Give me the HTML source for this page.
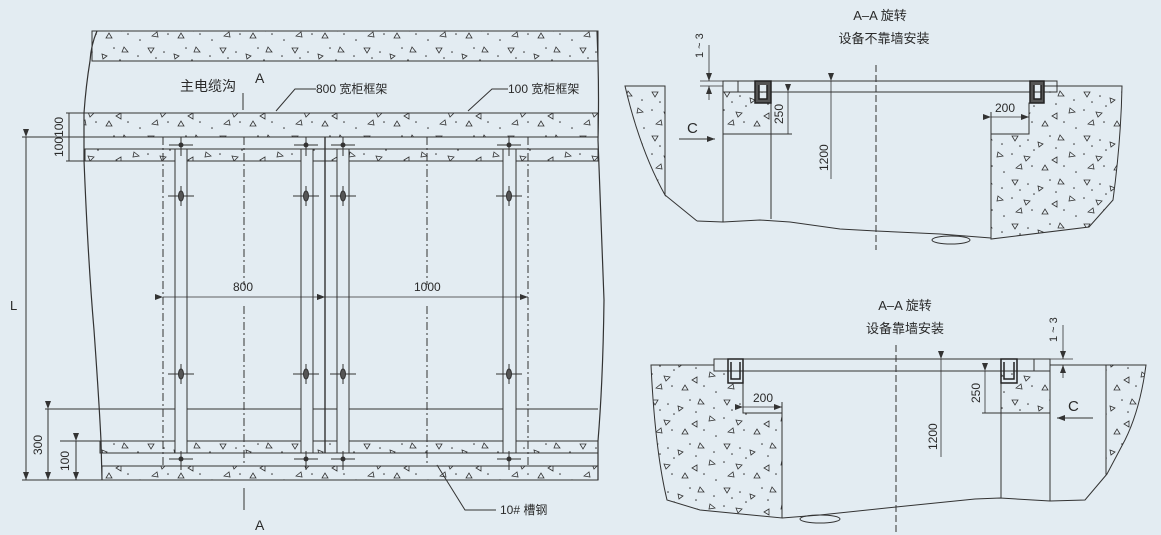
<!DOCTYPE html>
<html><head><meta charset="utf-8"><style>
html,body{margin:0;padding:0;background:#e3ecf2;}
svg{display:block;}
text{font-family:"Liberation Sans","Noto Sans CJK SC",sans-serif;fill:#2a2a2a;}
</style></head><body>
<svg width="1161" height="535" viewBox="0 0 1161 535" xmlns="http://www.w3.org/2000/svg">
<defs>
<pattern id="c" width="72" height="44" patternUnits="userSpaceOnUse">
<g fill="none" stroke="#333" stroke-width="0.8">
<path d="M4 4 l6 0 l-3 5z"/><path d="M30 10 l5 2 l-4 3z"/><path d="M52 3 l4 5 l-6 0z"/>
<path d="M16 24 l6 1 l-4 4z"/><path d="M44 28 l5 -3 l0 6z"/><path d="M62 20 l5 4 l-6 1z"/>
<path d="M8 36 l5 -4 l1 5z"/><path d="M34 38 l6 0 l-3 -5z"/>
</g>
<g fill="#333"><circle cx="20" cy="8" r="0.8"/><circle cx="42" cy="4" r="0.8"/><circle cx="66" cy="12" r="0.8"/><circle cx="26" cy="18" r="0.8"/><circle cx="4" cy="22" r="0.8"/><circle cx="56" cy="34" r="0.8"/><circle cx="24" cy="34" r="0.8"/><circle cx="48" cy="16" r="0.8"/><circle cx="68" cy="40" r="0.8"/><circle cx="12" cy="14" r="0.8"/></g>
</pattern>
<marker id="ar" markerWidth="8" markerHeight="6" refX="8" refY="3" orient="auto" markerUnits="userSpaceOnUse"><path d="M0 0 L8 3 L0 6z" fill="#333"/></marker>
</defs>

<g stroke="#333" stroke-width="1" fill="none">
<rect x="92" y="31" width="506" height="30" fill="url(#c)"/>
<rect x="84" y="113" width="514" height="24" fill="url(#c)"/>
<rect x="85" y="149" width="513" height="12" fill="url(#c)"/>
<rect x="100" y="441" width="498" height="12" fill="url(#c)"/>
<rect x="102" y="466" width="496" height="14" fill="url(#c)"/>
<path d="M97 31 Q91 45 90 61 Q86 85 84 113 L84 160 Q88 260 94 330 Q99 400 101 441 L102 480" stroke-width="1.2"/>
<path d="M597 31 L598 61 Q599 100 598 140 Q602 250 604 300 Q603 380 598 441 L598 480" stroke-width="1.2"/>
<line x1="84" y1="149" x2="598" y2="149"/>
<line x1="66" y1="113" x2="84" y2="113"/><line x1="66" y1="161" x2="85" y2="161"/>
<line x1="22" y1="137" x2="84" y2="137"/>
<line x1="45" y1="409" x2="598" y2="409"/>
<line x1="60" y1="441" x2="100" y2="441"/>
<line x1="22" y1="480" x2="102" y2="480"/>
<line x1="26" y1="137" x2="26" y2="480" marker-start="url(#ar)" marker-end="url(#ar)"/>
<line x1="69" y1="113" x2="69" y2="161"/>
<line x1="66" y1="137" x2="72" y2="137"/>
<line x1="48" y1="409" x2="48" y2="480" marker-start="url(#ar)" marker-end="url(#ar)"/>
<line x1="76" y1="441" x2="76" y2="480" marker-start="url(#ar)" marker-end="url(#ar)"/>
<g fill="#e3ecf2">
<rect x="175" y="149" width="12" height="304"/>
<rect x="301" y="149" width="12" height="304"/>
<rect x="337" y="149" width="12" height="304"/>
<rect x="503" y="149" width="13" height="304"/>
</g>
<line x1="325" y1="137" x2="325" y2="453" stroke-width="1.4"/>
<g stroke-dasharray="8 3 2 3">
<line x1="163" y1="137" x2="163" y2="466"/>
<line x1="244" y1="137" x2="244" y2="285"/><line x1="244" y1="306" x2="244" y2="466"/>
<line x1="427" y1="137" x2="427" y2="285"/><line x1="427" y1="306" x2="427" y2="466"/>
<line x1="528" y1="137" x2="528" y2="466"/>
</g>
<line x1="163" y1="297" x2="325" y2="297" marker-start="url(#ar)" marker-end="url(#ar)" stroke-width="0.8"/>
<line x1="325" y1="297" x2="528" y2="297" marker-start="url(#ar)" marker-end="url(#ar)" stroke-width="0.8"/>
<line x1="243" y1="93" x2="243" y2="110"/>
<line x1="244" y1="488" x2="244" y2="510"/>
<polyline points="276,111 295,89 316,89"/>
<polyline points="468,111 492,89 508,89"/>
<polyline points="437,465 465,510 496,510"/>
</g>
<g stroke="#333" stroke-width="1" fill="#333">
<g id="b1"><line x1="169" y1="145" x2="193" y2="145"/><line x1="181" y1="137" x2="181" y2="156"/><circle cx="181" cy="145" r="2"/></g>
<use href="#b1" x="125"/><use href="#b1" x="162"/><use href="#b1" x="328"/>
<use href="#b1" y="314"/><use href="#b1" x="125" y="314"/><use href="#b1" x="162" y="314"/><use href="#b1" x="328" y="314"/>
<g id="b2"><line x1="168" y1="196" x2="194" y2="196"/><line x1="181" y1="186" x2="181" y2="206"/><ellipse cx="181" cy="196" rx="2.5" ry="5" fill="#555"/></g>
<use href="#b2" x="125"/><use href="#b2" x="162"/><use href="#b2" x="328"/>
<use href="#b2" y="178"/><use href="#b2" x="125" y="178"/><use href="#b2" x="162" y="178"/><use href="#b2" x="328" y="178"/>
</g>
<g font-size="12">
<text x="180" y="91" font-size="14">主电缆沟</text>
<text x="255" y="83" font-size="14">A</text>
<text x="255" y="530" font-size="14">A</text>
<text x="316" y="93">800 宽柜框架</text>
<text x="508" y="93">100 宽柜框架</text>
<text x="500" y="514">10# 槽钢</text>
<text x="233" y="291">800</text>
<text x="414" y="291">1000</text>
<text x="10" y="310" font-size="13">L</text>
<text transform="translate(63,157) rotate(-90)">100100</text>
<text transform="translate(42,455) rotate(-90)">300</text>
<text transform="translate(69,471) rotate(-90)">100</text>
</g>

<g stroke="#333" stroke-width="1" fill="none">
<path d="M625 86 L665 86 L665 195 Q640 150 625 86z" fill="url(#c)"/>
<line x1="665" y1="195" x2="697" y2="221"/>
<rect x="723" y="92" width="48" height="42" fill="url(#c)"/>
<path d="M991 239 L991 134 L1029 134 L1029 103 L1044 103 L1044 86 L1122 86 Q1121 140 1113 200 L1089 227 Z" fill="url(#c)"/>
<rect x="723" y="81" width="334" height="11"/>
<line x1="738" y1="81" x2="738" y2="92"/><line x1="1044" y1="81" x2="1044" y2="92"/>
<path d="M755 81 h16 v22 h-16z M759 85 v14 h8 v-14" fill="#555" stroke="#222" stroke-width="1.5"/>
<path d="M1030 81 h14 v22 h-14z M1034 85 v14 h7 v-14" fill="#555" stroke="#222" stroke-width="1.5"/>
<line x1="723" y1="92" x2="723" y2="222"/>
<line x1="771" y1="134" x2="771" y2="219"/>
<polyline points="697,221 723,222 760,220 790,222 840,229 876,231 940,234 991,238"/>
<line x1="771" y1="134" x2="792" y2="134"/>
<line x1="788" y1="92" x2="788" y2="134" marker-start="url(#ar)" stroke-width="0.8"/>
<line x1="831" y1="81" x2="831" y2="179" marker-start="url(#ar)" stroke-width="0.8"/>
<line x1="991" y1="117" x2="1029" y2="117" marker-start="url(#ar)" marker-end="url(#ar)" stroke-width="0.8"/>
<line x1="991" y1="112" x2="991" y2="134"/>
<line x1="876" y1="65" x2="876" y2="250" stroke-dasharray="7 3"/>
<line x1="709" y1="45" x2="709" y2="81" marker-end="url(#ar)" stroke-width="0.8"/>
<line x1="709" y1="100" x2="709" y2="86" marker-end="url(#ar)" stroke-width="0.8"/>
<line x1="700" y1="81" x2="723" y2="81" stroke-width="0.8"/><line x1="700" y1="86" x2="723" y2="86" stroke-width="0.8"/>
<line x1="679" y1="139" x2="715" y2="139" marker-end="url(#ar)"/>
<ellipse cx="951" cy="240" rx="19" ry="4"/>
</g>
<g font-size="12">
<text x="880" y="20" font-size="13" text-anchor="middle">A–A 旋转</text>
<text x="884" y="43" font-size="13" text-anchor="middle">设备不靠墙安装</text>
<text x="687" y="133" font-size="15">C</text>
<text x="995" y="112">200</text>
<text transform="translate(783,124) rotate(-90)">250</text>
<text transform="translate(828,171) rotate(-90)">1200</text>
<text transform="translate(703,58) rotate(-90)" font-size="11">1 ~ 3</text>
</g>

<g stroke="#333" stroke-width="1" fill="none">
<path d="M651 365 L714 365 L714 371 L728 371 L728 383 L743 383 L743 413 L782 413 L782 518 L700 510 L667 500 Q655 450 651 365z" fill="url(#c)"/>
<rect x="1001" y="371" width="49" height="42" fill="url(#c)"/>
<path d="M1106 365 L1146 365 Q1140 410 1125 440 L1107 474 L1106 474z" fill="url(#c)"/>
<path d="M1107 474 L1085 500 L1050 501 L1000 498 L975 499 L896 507 L820 515 L782 518"/>
<line x1="1050" y1="365" x2="1106" y2="365"/>
<rect x="714" y="359" width="336" height="12"/>
<line x1="1034" y1="359" x2="1034" y2="371"/>
<path d="M728 359 h15 v24 h-15z M731 362 v17 h9 v-17" fill="none" stroke="#222" stroke-width="1.5"/>
<path d="M1001 359 h16 v24 h-16z M1004 362 v17 h10 v-17" fill="none" stroke="#222" stroke-width="1.5"/>
<line x1="1050" y1="359" x2="1050" y2="501"/>
<line x1="1001" y1="413" x2="1001" y2="498"/>
<line x1="982" y1="413" x2="1001" y2="413"/>
<line x1="985" y1="371" x2="985" y2="413" marker-start="url(#ar)" stroke-width="0.8"/>
<line x1="941" y1="359" x2="941" y2="457" marker-start="url(#ar)" stroke-width="0.8"/>
<line x1="743" y1="407" x2="782" y2="407" marker-start="url(#ar)" marker-end="url(#ar)" stroke-width="0.8"/>
<line x1="782" y1="402" x2="782" y2="413"/>
<line x1="896" y1="345" x2="896" y2="535" stroke-dasharray="7 3"/>
<line x1="1063" y1="325" x2="1063" y2="359" marker-end="url(#ar)" stroke-width="0.8"/>
<line x1="1063" y1="378" x2="1063" y2="365" marker-end="url(#ar)" stroke-width="0.8"/>
<line x1="1050" y1="359" x2="1073" y2="359" stroke-width="0.8"/>
<line x1="1093" y1="418" x2="1057" y2="418" marker-end="url(#ar)"/>
<ellipse cx="820" cy="519" rx="20" ry="4"/>
</g>
<g font-size="12">
<text x="905" y="310" font-size="13" text-anchor="middle">A–A 旋转</text>
<text x="905" y="333" font-size="13" text-anchor="middle">设备靠墙安装</text>
<text x="1068" y="411" font-size="15">C</text>
<text x="753" y="402">200</text>
<text transform="translate(980,403) rotate(-90)">250</text>
<text transform="translate(937,450) rotate(-90)">1200</text>
<text transform="translate(1057,342) rotate(-90)" font-size="11">1 ~ 3</text>
</g>
</svg>
</body></html>
